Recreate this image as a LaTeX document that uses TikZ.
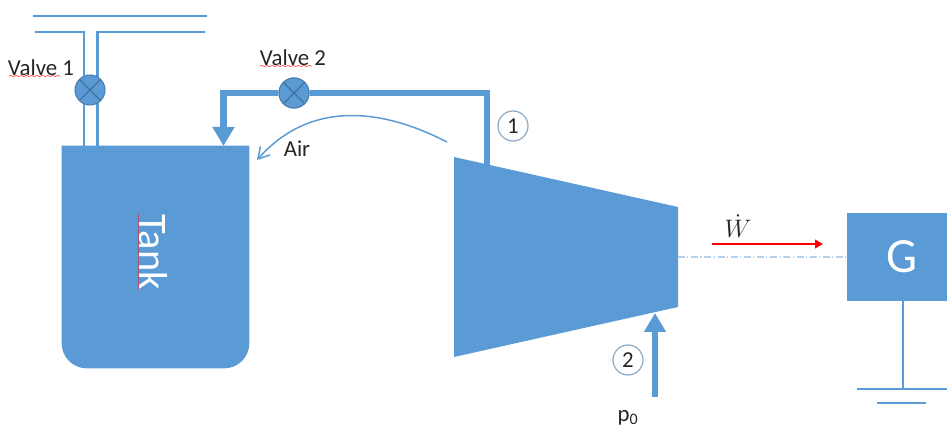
\documentclass[tikz,border=0pt]{standalone}
\usepackage{fontspec}
\setmainfont{Carlito}
\usetikzlibrary{arrows.meta,decorations.pathmorphing}
\definecolor{plantblue}{HTML}{5B9BD5}
\definecolor{valveedge}{HTML}{41719C}
\definecolor{textgray}{HTML}{262626}
\tikzset{
 thinpipe/.style={draw=plantblue,line width=1.15pt},
 airline/.style={draw=plantblue,line width=.85pt},
 flowline/.style={draw=plantblue,line width=3.9pt},
 flowtip/.style={-{Triangle[width=.42cm,length=.38cm]}},
 valve/.style={circle,draw=valveedge!70!plantblue,fill=plantblue,line width=.6pt,minimum size=.6cm,inner sep=0pt,
  path picture={\draw[valveedge,line width=.7pt] (path picture bounding box.north west)--(path picture bounding box.south east)
   (path picture bounding box.north east)--(path picture bounding box.south west);}},
 station/.style={circle,draw=valveedge!60!white,line width=.7pt,minimum size=.6cm,inner sep=0pt,text=textgray,font=\fontsize{13}{13}\selectfont},
 lbl/.style={text=textgray,inner sep=0pt,font=\fontsize{13}{13}\selectfont},
 spell/.style={draw=red!70!white,line width=.4pt,decorate,decoration={snake,amplitude=.3pt,segment length=3pt}},
}
\begin{document}
\begin{tikzpicture}[x=.02cm,y=-.02cm]
 \useasboundingbox (0,0) rectangle (947,428);
 % tank and turbine
 \node[minimum width=3.74cm,minimum height=4.44cm,inner sep=0pt] (tank) at (155.5,257) {};
 \fill[plantblue] (tank.north west) [rounded corners=.5cm] -- (tank.south west) -- (tank.south east) [sharp corners] -- (tank.north east) -- cycle;
 \fill[plantblue] (454,157) coordinate (turbinl) -- (678,207) coordinate (turbtr) -- (678,307) coordinate (turbbr) -- (454,357) -- cycle;
 \node[rotate=-90,text=white,inner sep=0pt,font=\fontsize{23}{23}\selectfont] (tanklabel) at (153,252) {Tank};
 \draw[draw=red!45!plantblue,line width=.5pt] (138,214)--(138,290);
 % supply pipes
 \coordinate (topa) at (33,16);
 \coordinate (topb) at (207,16);
 \coordinate (seca) at (35,32);
 \coordinate (secb) at (205,32);
 \coordinate (pipea) at (84,32);
 \coordinate (pipeb) at (97.5,32);
 \draw[thinpipe] (topa)--(topb);
 \draw[thinpipe] (seca)--(pipea)--(pipea |- tank.north);
 \draw[thinpipe] (secb)--(pipeb)--(pipeb |- tank.north);
 % return line
 \coordinate (turbout) at (487,166);
 \coordinate (tankin) at (223.5,146);
 \node[valve] (valvea) at (90,90) {};
 \node[valve] (valveb) at (294,93) {};
 \draw[flowline] (turbout) |- (valveb.east);
 \draw[flowline,flowtip] (valveb.west) -| (tankin);
 \node[valve] at (valveb) {};
 \node[lbl] (valvealabel) at (41,68) {Valve 1};
 \node[lbl] (valveblabel) at (293,58) {Valve 2};
 \draw[spell] (9,76)--(60,76);
 \draw[spell] (260,66)--(312,66);
 % air
 \coordinate (airfrom) at (447,142);
 \coordinate (airto) at (257,160);
 \draw[airline,-{Straight Barb[length=.22cm,width=.26cm]}] (airfrom) .. controls (385,110) and (312,98) .. (airto);
 \node[lbl] (airlabel) at (297,149) {Air};
 \node[station] (stationa) at (513,126) {1};
 % inlet
 \coordinate (inletfoot) at (655,397);
 \coordinate (inlettip) at (655,313);
 \draw[flowline,flowtip] (inletfoot)--(inlettip);
 \node[station] (stationb) at (628,360) {2};
 \node[lbl] (inletlabel) at (628,418) {p\textsubscript{0}};
 % generator
 \node[fill=plantblue,minimum width=2cm,minimum height=1.76cm,inner sep=0pt,text=white,font=\fontsize{28}{28}\selectfont] (gen) at (897,257) {\hspace{.2cm}G};
 \coordinate (shaftend) at (678,257);
 \draw[plantblue!45!white,line width=1.3pt,dash pattern=on 4pt off 1.3pt on .6pt off 1.6pt] (shaftend)--(gen.west);
 \draw[red,line width=1.4pt,-{Triangle[width=.17cm,length=.16cm]}] (712,244) coordinate (powa)--(823,244) coordinate (powb);
 \node[inner sep=0pt,text=textgray,font=\fontsize{15}{15}\selectfont] (powlabel) at (738,226) {$\dot{W}$};
 \coordinate (earth) at (903,389);
 \draw[thinpipe] (earth |- gen.south)--(earth);
 \draw[thinpipe] (857,389) coordinate (eartha)--(947,389) coordinate (earthb);
 \draw[thinpipe] (877,403) coordinate (earthc)--(926,403) coordinate (earthd);
\end{tikzpicture}
\end{document}
